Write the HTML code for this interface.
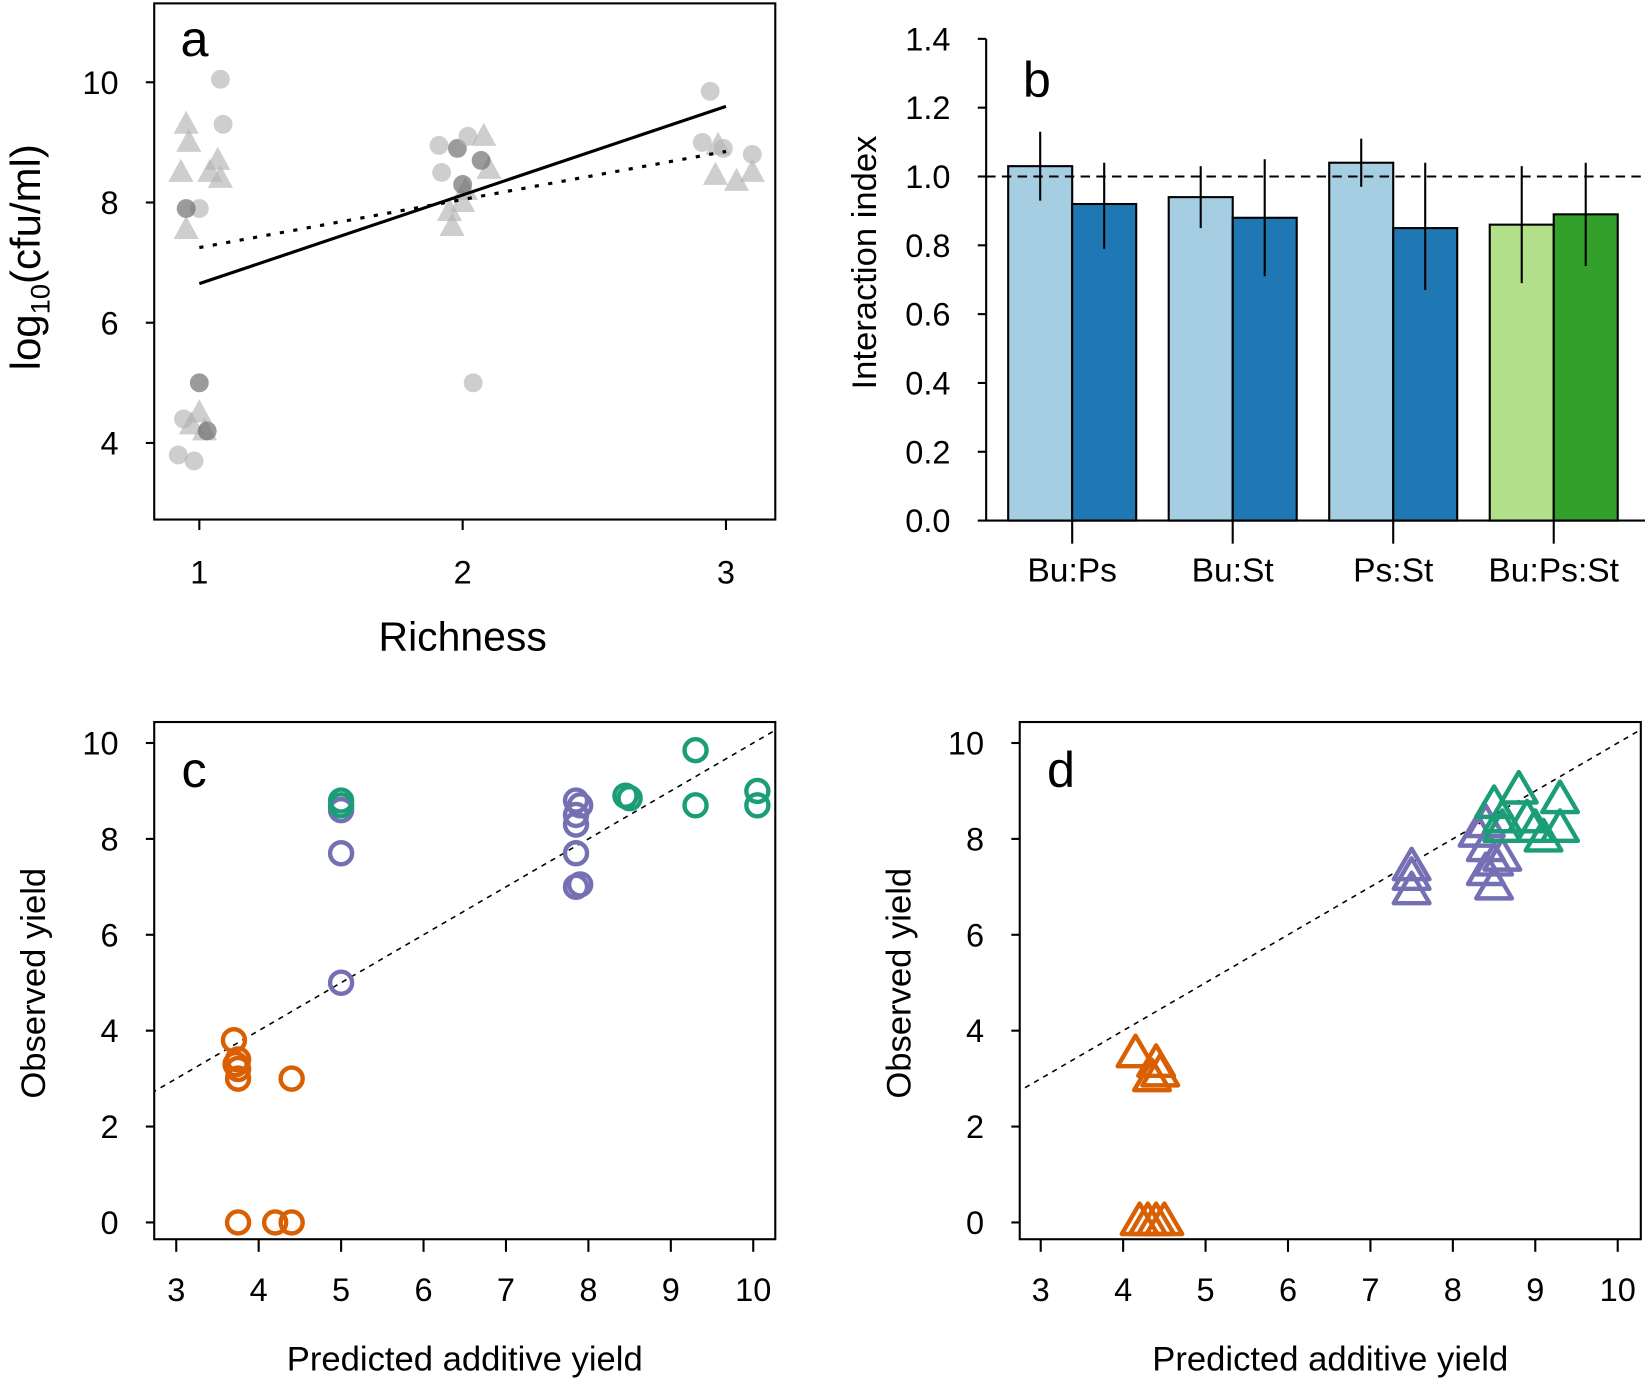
<!DOCTYPE html>
<html><head><meta charset="utf-8"><style>
html,body{margin:0;padding:0;background:#fff}
svg{display:block}
text{font-family:"Liberation Sans",Arial,sans-serif;fill:#000}
</style></head><body>
<svg id="fig" xmlns="http://www.w3.org/2000/svg" width="1645" height="1379" viewBox="0 0 1568 1314">
<g id="pa"></g>
<g id="pb"></g>
<g id="pc"></g>
<g id="pd"></g>
</svg>
<script>
// ---------- Panel a data ----------
const aCircX = [1.08,1.09,0.92,0.98,1.0,0.95,1.0,0.94,1.03, 1.91,1.92,1.98,2.0,2.07,2.04,2.02, 2.94,2.91,2.99,3.1];
const aCircY = [10.05,9.3,3.8,3.7,7.9,7.9,5.0,4.4,4.2, 8.95,8.5,8.9,8.3,8.7,5.0,9.1, 9.85,9.0,8.9,8.8];
const aCircDark = [0,0,0,0,0,1,1,0,1, 0,0,1,1,1,0,0, 0,0,0,0];
const aTriX = [0.95,0.96,0.93,1.07,1.08,1.04,0.95,1.0,0.97,1.02, 1.96,1.95,2.08,2.1,2.01,2.0, 2.96,3.04,3.1,2.97];
const aTriY = [9.3,9.0,8.5,8.7,8.4,8.5,7.55,4.5,4.3,4.2, 7.6,7.85,9.1,8.55,8.2,8.0, 8.45,8.35,8.5,8.95];
const aSolid = [6.65, 9.6];
const aDotted = [7.25, 8.85];
const aXTicks = [1,2,3];
const aYTicks = [4,6,8,10];
// ---------- Panel b data ----------
const bCats = ["Bu:Ps","Bu:St","Ps:St","Bu:Ps:St"];
const bLight = [1.03,0.94,1.04,0.86];
const bDark = [0.92,0.88,0.85,0.89];
const bLightLo = [0.93,0.85,0.97,0.69];
const bLightHi = [1.13,1.03,1.11,1.03];
const bDarkLo = [0.79,0.71,0.67,0.74];
const bDarkHi = [1.04,1.05,1.04,1.04];
const bYTicks = ["0.0","0.2","0.4","0.6","0.8","1.0","1.2","1.4"];
// ---------- Panel c data ----------
const cOrX = [3.7,3.75,3.75,3.75,3.72,4.4,3.75,4.2,4.4];
const cOrY = [3.8,3.4,3.2,3.0,3.3,3.0,0,0,0];
const cPuX = [5,5,5,7.85,7.85,7.9,7.85,7.85,7.85,7.9];
const cPuY = [8.6,7.7,5.0,8.8,8.5,8.7,8.3,7.7,7.0,7.05];
const cGrX = [5,5,8.45,8.5,9.3,9.3,10.05,10.05];
const cGrY = [8.8,8.7,8.9,8.85,9.85,8.7,9.0,8.7];
// ---------- Panel d data ----------
const dOrX = [4.15,4.4,4.45,4.35,4.2,4.3,4.4,4.5];
const dOrY = [3.5,3.3,3.1,3.0,0,0,0,0];
const dPuX = [7.5,7.5,7.5,8.3,8.4,8.5,8.4,8.5,8.6,8.4];
const dPuY = [7.4,7.2,6.9,8.1,7.8,7.5,7.3,7.0,7.6,8.3];
const dGrX = [8.5,8.8,9.3,8.6,8.9,9.0,9.3,9.1,8.6];
const dGrY = [8.7,9.0,8.8,8.4,8.4,8.2,8.2,8.0,8.2];
const cdXTicks = [3,4,5,6,7,8,9,10];
const cdYTicks = [0,2,4,6,8,10];

const NS="http://www.w3.org/2000/svg";
function mk(parent,tag,attrs,txt){const e=document.createElementNS(NS,tag);for(const k in attrs)e.setAttribute(k,attrs[k]);if(txt!==undefined)e.textContent=txt;parent.appendChild(e);return e;}

// ---------- Panel a ----------
(function(){
const g=document.getElementById('pa');
const X=v=>190+(v-1)*251, Y=v=>422-(v-4)*57.3;
let e=mk(g,'rect',{x:147,y:3,width:592,height:492,fill:'none',stroke:'#000','stroke-width':2});

aYTicks.forEach(t=>{mk(g,'line',{x1:139,x2:147,y1:Y(t),y2:Y(t),stroke:'#000','stroke-width':2});
 e=mk(g,'text',{x:113,y:Y(t)+11,'font-size':31,'text-anchor':'end'},t);
 });
aXTicks.forEach(t=>{mk(g,'line',{x1:X(t),x2:X(t),y1:495,y2:505,stroke:'#000','stroke-width':2});
 e=mk(g,'text',{x:X(t),y:556,'font-size':31,'text-anchor':'middle'},t);
 });
for(let i=0;i<aTriX.length;i++){const x=X(aTriX[i]),y=Y(aTriY[i]);
 e=mk(g,'polygon',{points:`${x-12},${y+9} ${x+12},${y+9} ${x},${y-13}`,fill:'#b4b4b4','fill-opacity':0.65});
 }
for(let i=0;i<aCircX.length;i++){
 e=mk(g,'circle',{cx:X(aCircX[i]),cy:Y(aCircY[i]),r:9,fill:aCircDark[i]?'#707070':'#b4b4b4','fill-opacity':aCircDark[i]?0.7:0.65});
 }
e=mk(g,'line',{x1:X(1),y1:Y(aSolid[0]),x2:X(3),y2:Y(aSolid[1]),stroke:'#000','stroke-width':3});

e=mk(g,'line',{x1:X(1),y1:Y(aDotted[0]),x2:X(3),y2:Y(aDotted[1]),stroke:'#000','stroke-width':3,'stroke-dasharray':'4 9'});

e=mk(g,'text',{x:172,y:53,'font-size':48},'a');
e=mk(g,'text',{x:0,y:0,'font-size':40,'text-anchor':'middle',transform:'translate(38,245) rotate(-90)'});

e.innerHTML='log<tspan font-size="26" dy="9">10</tspan><tspan dy="-9">(cfu/ml)</tspan>';
e=mk(g,'text',{x:441,y:620,'font-size':39,'text-anchor':'middle'},'Richness');

})();

// ---------- Panel b ----------
(function(){
const g=document.getElementById('pb');
const Y=v=>496-v*328;
const centers=[1022,1175,1328,1481], bw=61;
let e;
bYTicks.forEach(t=>{const y=Y(parseFloat(t));mk(g,'line',{x1:932,x2:940,y1:y,y2:y,stroke:'#000','stroke-width':2});
 e=mk(g,'text',{x:906,y:y+11,'font-size':31,'text-anchor':'end'},t);
 });
mk(g,'line',{x1:940,x2:940,y1:Y(1.4),y2:Y(0),stroke:'#000','stroke-width':2});
for(let i=0;i<bCats.length;i++){const c=centers[i];const last=i===3;
 e=mk(g,'rect',{x:c-bw,y:Y(bLight[i]),width:bw,height:Y(0)-Y(bLight[i]),fill:last?'#b2df8a':'#a6cee3',stroke:'#000','stroke-width':2});
 
 e=mk(g,'rect',{x:c,y:Y(bDark[i]),width:bw,height:Y(0)-Y(bDark[i]),fill:last?'#33a02c':'#1f78b4',stroke:'#000','stroke-width':2});
 
 e=mk(g,'line',{x1:c-bw/2,x2:c-bw/2,y1:Y(bLightLo[i]),y2:Y(bLightHi[i]),stroke:'#000','stroke-width':2});
 
 e=mk(g,'line',{x1:c+bw/2,x2:c+bw/2,y1:Y(bDarkLo[i]),y2:Y(bDarkHi[i]),stroke:'#000','stroke-width':2});
 
 mk(g,'line',{x1:c,x2:c,y1:Y(0),y2:518,stroke:'#000','stroke-width':2});
 e=mk(g,'text',{x:c,y:554,'font-size':32,'text-anchor':'middle'},bCats[i]);
 }
mk(g,'line',{x1:940,x2:1568,y1:Y(0),y2:Y(0),stroke:'#000','stroke-width':2});
e=mk(g,'line',{x1:940,x2:1568,y1:Y(1),y2:Y(1),stroke:'#000','stroke-width':2,'stroke-dasharray':'9 6'});

e=mk(g,'text',{x:975,y:92,'font-size':48},'b');
e=mk(g,'text',{x:0,y:0,'font-size':33,'text-anchor':'middle',transform:'translate(835,250) rotate(-90)'},'Interaction index');

})();

// ---------- Panels c & d ----------
function scatterPanel(id,left,label,X,series,shape){
const g=document.getElementById(id);
const Y=v=>1165-v*45.7;
let e=mk(g,'rect',{x:left,y:688,width:592,height:493,fill:'none',stroke:'#000','stroke-width':2});

cdYTicks.forEach(t=>{mk(g,'line',{x1:left-8,x2:left,y1:Y(t),y2:Y(t),stroke:'#000','stroke-width':2});
 e=mk(g,'text',{x:left-34,y:Y(t)+11,'font-size':31,'text-anchor':'end'},t);
 });
cdXTicks.forEach(t=>{mk(g,'line',{x1:X(t),x2:X(t),y1:1181,y2:1193,stroke:'#000','stroke-width':2});
 e=mk(g,'text',{x:X(t),y:1240,'font-size':31,'text-anchor':'middle'},t);
 });
const cid='clip'+id;const cp=mk(mk(g,'defs',{}),'clipPath',{id:cid});mk(cp,'rect',{x:left,y:688,width:592,height:493});
const x0=2.7,x1=10.4;
e=mk(g,'line',{x1:X(x0),y1:Y(x0),x2:X(x1),y2:Y(x1),stroke:'#000','stroke-width':1.5,'stroke-dasharray':'5 5','clip-path':`url(#${cid})`});

series.forEach(s=>{for(let i=0;i<s.x.length;i++){const x=X(s.x[i]),y=Y(s.y[i]);
 if(shape==='c'){e=mk(g,'circle',{cx:x,cy:y,r:10.5,fill:'none',stroke:s.col,'stroke-width':4.2});}
 else{e=mk(g,'polygon',{points:`${x-17},${y+11} ${x+17},${y+11} ${x},${y-18}`,fill:'none',stroke:s.col,'stroke-width':4.2,'stroke-linejoin':'round'});}
 }});
e=mk(g,'text',{x:left+26,y:750,'font-size':48},label);
e=mk(g,'text',{x:0,y:0,'font-size':33,'text-anchor':'middle',transform:`translate(${left-104},937) rotate(-90)`},'Observed yield');

e=mk(g,'text',{x:left+296,y:1306,'font-size':33,'text-anchor':'middle'},'Predicted additive yield');

}
scatterPanel('pc',147,'c',v=>168+(v-3)*78.57,[{x:cOrX,y:cOrY,col:'#d95f02'},{x:cPuX,y:cPuY,col:'#7570b3'},{x:cGrX,y:cGrY,col:'#1b9e77'}],'c');
scatterPanel('pd',972,'d',v=>992+(v-3)*78.57,[{x:dOrX,y:dOrY,col:'#d95f02'},{x:dPuX,y:dPuY,col:'#7570b3'},{x:dGrX,y:dGrY,col:'#1b9e77'}],'t');
</script>
</body></html>
